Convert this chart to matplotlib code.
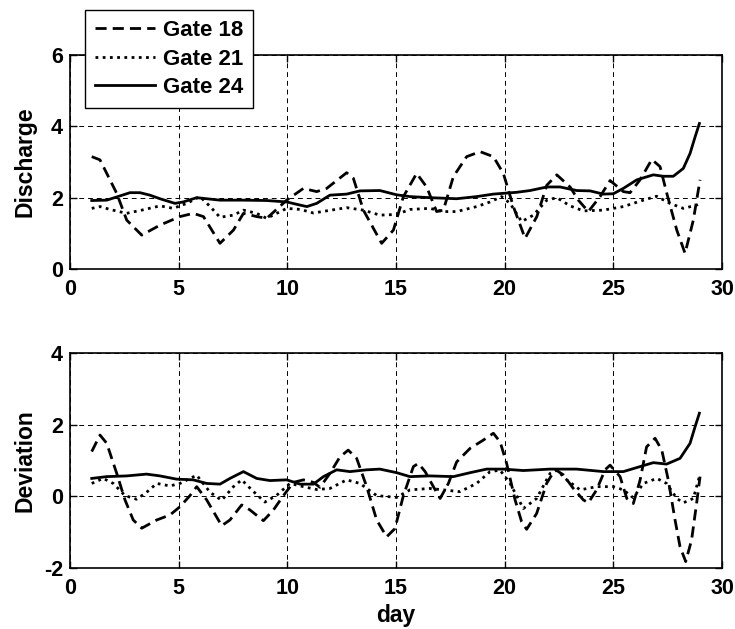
import matplotlib
matplotlib.use("Agg")
import matplotlib.pyplot as plt

plt.rcParams['font.family'] = ['Liberation Sans', 'DejaVu Sans']
plt.rcParams['font.weight'] = 'bold'
plt.rcParams['axes.unicode_minus'] = False

# ---- Data (day, value) ----
# Top panel: Discharge
g18_d_x = [1.0, 1.38, 2.15, 2.61, 3.3, 4.14, 5.06, 5.67, 6.14, 6.9, 7.52, 7.98, 8.59, 9.05, 9.97,
           10.74, 11.35, 11.81, 12.73, 13.04, 13.5, 14.34, 14.88, 15.34, 15.95, 16.41, 16.87, 17.18,
           17.64, 18.25, 18.87, 19.48, 19.94, 20.4, 20.94, 21.48, 21.94, 22.4, 23.01, 23.39, 23.85,
           24.39, 24.85, 25.46, 25.77, 26.23, 26.77, 27.15, 27.46, 27.92, 28.3, 28.68, 28.99]
g18_d_y = [3.15, 3.06, 2.12, 1.37, 0.95, 1.23, 1.47, 1.56, 1.47, 0.72, 1.09, 1.56, 1.47, 1.42, 1.93,
           2.26, 2.17, 2.26, 2.70, 2.54, 1.65, 0.72, 1.09, 2.03, 2.68, 2.30, 1.61, 1.65,
           2.59, 3.15, 3.29, 3.15, 2.68, 1.75, 0.86, 1.47, 2.35, 2.64, 2.30, 1.93, 1.61,
           2.03, 2.48, 2.17, 2.14, 2.50, 3.07, 2.87, 2.12, 1.09, 0.44, 1.37, 2.50]

g21_d_x = [1.0, 1.38, 1.84, 2.6, 3.3, 4.14, 4.75, 5.37, 5.98, 6.45, 6.9, 7.52, 7.98, 8.59, 9.05,
           9.51, 9.97, 10.6, 11.2, 11.81, 12.73, 13.5, 14.26, 15.03, 15.64, 16.56, 17.18, 17.79,
           18.71, 19.33, 19.86, 20.25, 20.78, 21.32, 21.94, 22.4, 23.01, 23.62, 24.54, 25.46,
           26.38, 26.99, 27.6, 28.22, 28.83, 28.99]
g21_d_y = [1.70, 1.75, 1.67, 1.56, 1.65, 1.77, 1.70, 1.84, 2.03, 1.75, 1.45, 1.51, 1.65, 1.56, 1.42,
           1.56, 1.70, 1.67, 1.57, 1.63, 1.72, 1.65, 1.51, 1.53, 1.67, 1.70, 1.61, 1.61,
           1.75, 1.88, 2.03, 1.84, 1.33, 1.51, 1.93, 2.00, 1.77, 1.63, 1.65, 1.75,
           1.93, 2.04, 1.84, 1.70, 1.79, 1.85]

g24_d_x = [1.0, 1.69, 2.3, 2.76, 3.22, 3.68, 4.14, 4.83, 5.21, 5.83, 6.29, 6.9, 7.98, 9.05, 9.97,
           10.6, 10.9, 11.35, 11.96, 12.73, 13.34, 14.26, 15.03, 15.64, 16.56, 17.79, 18.71,
           19.48, 20.55, 21.17, 21.94, 22.55, 23.31, 23.93, 24.54, 25.0, 25.46, 26.08, 26.84,
           27.3, 27.76, 28.22, 28.53, 28.76, 28.96]
g24_d_y = [1.92, 1.93, 2.05, 2.14, 2.14, 2.07, 1.97, 1.84, 1.88, 2.00, 1.97, 1.93, 1.93, 1.92, 1.88,
           1.79, 1.75, 1.84, 2.07, 2.10, 2.19, 2.20, 2.08, 2.03, 2.00, 1.97, 2.03,
           2.10, 2.15, 2.20, 2.30, 2.30, 2.20, 2.19, 2.10, 2.11, 2.26, 2.50, 2.64,
           2.60, 2.60, 2.82, 3.24, 3.70, 4.08]

# Bottom panel: Deviation
g18_v_x = [1.0, 1.38, 1.69, 2.15, 2.53, 2.91, 3.3, 3.99, 4.6, 5.06, 5.52, 5.83, 6.29, 6.98, 7.36,
           7.9, 8.28, 8.9, 9.36, 9.82, 10.28, 10.74, 11.2, 11.5, 11.96, 12.42, 12.8, 13.19, 13.65,
           14.11, 14.57, 14.95, 15.34, 15.8, 16.03, 16.34, 16.72, 17.03, 17.41, 17.79, 18.41,
           19.02, 19.48, 19.79, 20.09, 20.48, 20.78, 21.01, 21.47, 21.93, 22.32, 22.7, 23.16,
           23.62, 23.85, 24.23, 24.62, 24.85, 25.31, 25.62, 25.92, 26.23, 26.53, 26.92, 27.23,
           27.53, 27.84, 28.07, 28.33, 28.6, 28.83, 28.99]
g18_v_y = [1.25, 1.71, 1.48, 0.64, -0.10, -0.66, -0.89, -0.66, -0.52, -0.29, 0.02, 0.27, -0.10, -0.82, -0.66,
           -0.24, -0.38, -0.68, -0.38, 0.02, 0.39, 0.46, 0.39, 0.25, 0.64, 1.10, 1.29, 1.06, 0.27,
           -0.66, -1.13, -0.90, 0.02, 0.83, 0.92, 0.69, 0.27, -0.06, 0.36, 0.96, 1.34,
           1.57, 1.76, 1.52, 0.92, -0.10, -0.71, -0.92, -0.48, 0.36, 0.75, 0.60, 0.22,
           -0.10, -0.18, 0.18, 0.74, 0.87, 0.55, -0.06, -0.20, 0.45, 1.38, 1.62, 1.29,
           0.45, -0.66, -1.41, -1.82, -1.22, -0.20, 0.55]

g21_v_x = [1.0, 1.53, 1.99, 2.53, 3.06, 3.52, 3.99, 4.6, 5.06, 5.83, 6.45, 6.98, 7.52, 7.9, 8.43,
           8.97, 9.51, 10.12, 10.74, 11.35, 11.96, 12.73, 13.34, 14.11, 15.03, 15.64, 16.56,
           17.18, 17.94, 18.71, 19.33, 19.79, 20.25, 20.86, 21.47, 22.09, 22.4, 22.86, 23.47,
           24.23, 25.0, 25.46, 25.92, 26.38, 27.0, 27.45, 27.92, 28.22, 28.68, 28.96]
g21_v_y = [0.36, 0.50, 0.36, 0.02, -0.08, 0.11, 0.36, 0.29, 0.36, 0.59, 0.11, -0.11, 0.27, 0.46, 0.14,
           -0.16, 0.03, 0.36, 0.27, 0.19, 0.22, 0.46, 0.36, 0.02, -0.03, 0.18, 0.22,
           0.18, 0.13, 0.36, 0.69, 0.73, 0.36, -0.34, -0.06, 0.64, 0.73, 0.46, 0.18,
           0.27, 0.27, 0.18, -0.04, 0.36, 0.50, 0.36, -0.06, -0.18, -0.06, 0.55]

g24_v_x = [1.0, 1.69, 2.61, 3.52, 4.14, 4.9, 5.67, 6.29, 6.9, 7.36, 7.98, 8.59, 9.2, 9.97, 10.59,
           11.2, 11.66, 12.27, 12.88, 13.65, 14.26, 15.03, 15.64, 16.56, 17.64, 18.41, 19.17,
           19.94, 20.86, 22.09, 23.31, 24.54, 25.46, 26.23, 26.84, 27.45, 28.07, 28.53, 28.76, 28.96]
g24_v_y = [0.50, 0.55, 0.57, 0.62, 0.57, 0.48, 0.46, 0.36, 0.34, 0.50, 0.69, 0.50, 0.44, 0.46, 0.34,
           0.34, 0.55, 0.74, 0.69, 0.74, 0.76, 0.66, 0.55, 0.57, 0.55, 0.66, 0.76,
           0.76, 0.72, 0.76, 0.76, 0.69, 0.69, 0.83, 0.94, 0.90, 1.06, 1.48, 1.94, 2.32]

labels = ['Gate 18', 'Gate 21', 'Gate 24']
x_ticks = [0, 5, 10, 15, 20, 25, 30]
top_yticks = [0, 2, 4, 6]
bot_yticks = [-2, 0, 2, 4]

W, H = 735, 629
fig = plt.figure(figsize=(W / 100, H / 100), dpi=100)
ax1 = fig.add_axes([70 / W, 1 - 269 / H, 652 / W, 214 / H])
ax2 = fig.add_axes([70 / W, 1 - 568 / H, 652 / W, 215 / H])

styles = [dict(ls=(0, (4, 2.2)), lw=2.0), dict(ls=(0, (1, 1.6)), lw=2.0), dict(ls='-', lw=2.0)]

TICK_FS = 15.5
LAB_FS = 16.5

def style_axes(ax, yticks, ylabel):
    ax.set_xlim(0, 30)
    ax.set_ylim(yticks[0], yticks[-1])
    ax.set_xticks(x_ticks)
    ax.set_yticks(yticks)
    ax.tick_params(direction='in', length=5, width=1, top=True, right=True,
                   labelsize=TICK_FS)
    ax.tick_params(axis='x', pad=7)
    ax.tick_params(axis='y', pad=5)
    for lab in ax.get_xticklabels() + ax.get_yticklabels():
        lab.set_fontweight('bold')
    ax.grid(True, color='black', ls=(0, (5, 4)), lw=0.7)
    for s in ax.spines.values():
        s.set_linewidth(1.2)
    ax.set_ylabel(ylabel, fontsize=LAB_FS, fontweight='bold')
    ax.yaxis.set_label_coords(-0.052, 0.5)

lines = []
for xs, ys, st in zip([g18_d_x, g21_d_x, g24_d_x], [g18_d_y, g21_d_y, g24_d_y], styles):
    ln, = ax1.plot(xs, ys, color='black', **st)
    lines.append(ln)
for xs, ys, st in zip([g18_v_x, g21_v_x, g24_v_x], [g18_v_y, g21_v_y, g24_v_y], styles):
    ax2.plot(xs, ys, color='black', **st)

style_axes(ax1, top_yticks, 'Discharge')
style_axes(ax2, bot_yticks, 'Deviation')
ax2.set_xlabel('day', fontsize=LAB_FS, fontweight='bold', labelpad=4)

leg = fig.legend(lines, labels, loc='upper left', bbox_to_anchor=(85 / W, 1 - 10 / H),
                 borderaxespad=0, prop={'weight': 'bold', 'size': 16}, handlelength=2.7,
                 labelspacing=0.34, fancybox=False, framealpha=1, edgecolor='black',
                 borderpad=0.45, handletextpad=0.36)
leg.get_frame().set_linewidth(1.0)

fig.savefig('out.png', dpi=100)
